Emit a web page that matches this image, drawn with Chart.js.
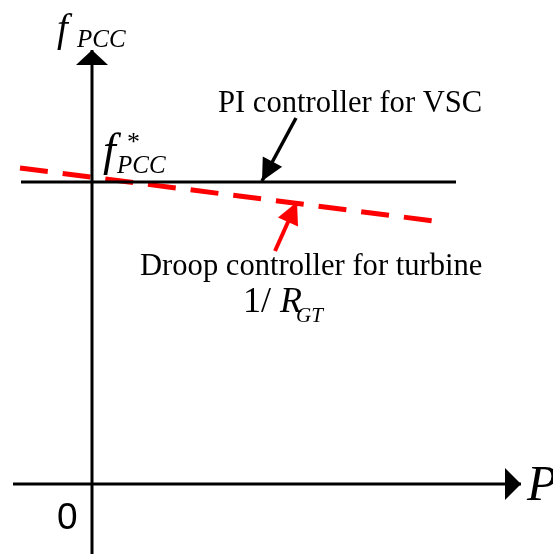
<!DOCTYPE html>
<html>
<head>
<meta charset="utf-8">
<script src="https://cdn.jsdelivr.net/npm/chart.js@4"></script>
<style>
  html, body { margin: 0; padding: 0; background: #fff; }
  #wrap { width: 553px; height: 554px; position: relative; }
</style>
</head>
<body>
<div id="wrap"><canvas id="diagram"></canvas></div>
<script>
// data units: origin of the P–f plane at (0, 0), one unit = 100 px
const pAxisX = [-0.79, 4.29];
const pAxisY = [0, 0];
const fAxisX = [0, 0];
const fAxisY = [-0.70, 4.34];

const fRef = 3.02;                 // f*_PCC level held by the VSC PI controller
const piX = [-0.71, 3.64];
const piY = [fRef, fRef];

const droopX = [-0.72, 3.50];      // turbine droop, slope 1/R_GT
const droopY = [3.16, 2.62];

const piArrowX = [2.04, 1.70];
const piArrowY = [3.66, 3.03];
const droopArrowX = [1.83, 2.05];
const droopArrowY = [2.33, 2.82];

const pts = (xs, ys) => xs.map((x, i) => ({ x, y: ys[i] }));

const serif = '"Liberation Serif", "Times New Roman", serif';
const sans = '"Liberation Sans", Arial, sans-serif';

// arrow heads on datasets flagged with `head`
const arrowHeads = {
  id: 'arrowHeads',
  afterDatasetsDraw(chart) {
    const { ctx, scales } = chart;
    chart.data.datasets.forEach(ds => {
      if (!ds.head) return;
      const n = ds.data.length;
      const a = ds.data[n - 2], b = ds.data[n - 1];
      const x1 = scales.x.getPixelForValue(a.x), y1 = scales.y.getPixelForValue(a.y);
      const x2 = scales.x.getPixelForValue(b.x), y2 = scales.y.getPixelForValue(b.y);
      const ang = Math.atan2(y2 - y1, x2 - x1);
      const { len, half } = ds.head;
      ctx.save();
      ctx.translate(x2, y2);
      ctx.rotate(ang);
      ctx.fillStyle = ds.borderColor;
      ctx.beginPath();
      ctx.moveTo(0, 0);
      ctx.lineTo(-len, -half);
      ctx.lineTo(-len, half);
      ctx.closePath();
      ctx.fill();
      ctx.restore();
    });
  }
};

// labels: text runs placed at pixel positions
const labels = {
  id: 'labels',
  afterDraw(chart) {
    const ctx = chart.ctx;
    const put = (txt, x, y, size, italic, family) => {
      ctx.font = (italic ? 'italic ' : '') + size + 'px ' + (family || serif);
      ctx.fillStyle = '#000';
      ctx.textBaseline = 'alphabetic';
      ctx.textAlign = 'left';
      ctx.fillText(txt, x, y);
    };
    ctx.save();
    // axis names
    put('f', 57, 41, 39, true);
    put('PCC', 77, 47, 25, true);
    put('P', 527, 500, 50, true);
    put('0', 57, 529, 37, false, sans);
    // reference frequency
    put('f', 103, 165, 46, true);
    put('*', 127, 150, 26, false);
    put('PCC', 117, 173, 25, true);
    // annotations
    put('PI controller for VSC', 218, 112, 30.6, false);
    put('Droop controller for turbine', 140, 275, 30.6, false);
    put('1/', 243, 312, 36, false);
    put('R', 280, 312, 36, true);
    put('GT', 296, 322, 21, true);
    ctx.restore();
  }
};

const ctx = document.getElementById('diagram').getContext('2d');
new Chart(ctx, {
  type: 'scatter',
  data: {
    datasets: [
      { data: pts(pAxisX, pAxisY), borderColor: '#000', borderWidth: 3, head: { len: 16, half: 16 } },
      { data: pts(fAxisX, fAxisY), borderColor: '#000', borderWidth: 3, head: { len: 15, half: 16 } },
      { data: pts(piX, piY), borderColor: '#000', borderWidth: 3 },
      { data: pts(droopX, droopY), borderColor: '#ff0000', borderWidth: 5, borderDash: [28, 15] },
      { data: pts(piArrowX, piArrowY), borderColor: '#000', borderWidth: 3.5, head: { len: 22, half: 11 } },
      { data: pts(droopArrowX, droopArrowY), borderColor: '#ff0000', borderWidth: 4, head: { len: 22, half: 11 } }
    ].map(d => Object.assign({ showLine: true, pointRadius: 0, pointHoverRadius: 0, fill: false }, d))
  },
  options: {
    responsive: true,
    maintainAspectRatio: false,
    animation: false,
    events: [],
    layout: { padding: 0 },
    plugins: { legend: { display: false }, tooltip: { enabled: false } },
    scales: {
      x: { type: 'linear', min: -0.92, max: 4.61, display: false },
      y: { type: 'linear', min: -0.70, max: 4.84, display: false }
    }
  },
  plugins: [arrowHeads, labels]
});
</script>
</body>
</html>
